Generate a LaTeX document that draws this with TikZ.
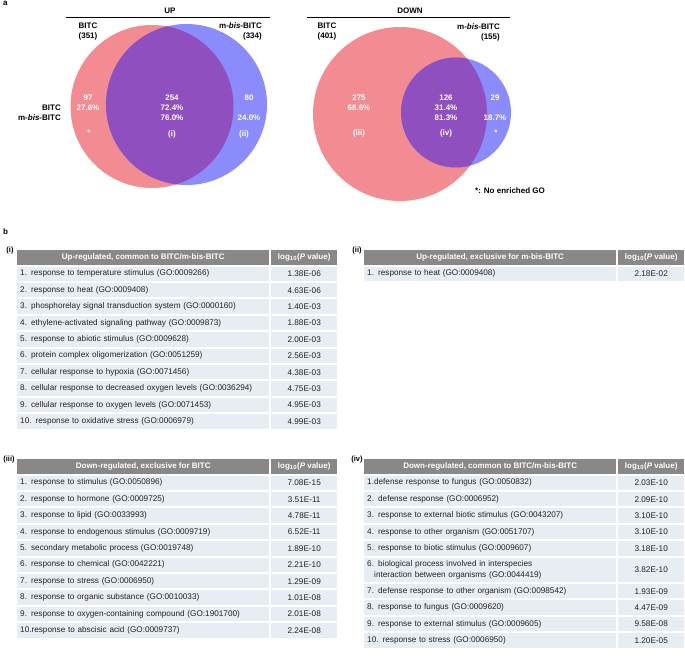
\documentclass[tikz,border=0pt]{standalone}
\usepackage{fontspec}
\setmainfont{Liberation Sans}
\definecolor{vred}{RGB}{242,139,146}
\definecolor{vblue}{RGB}{139,139,252}
\definecolor{vpurple}{RGB}{143,79,190}
\definecolor{hdrgray}{RGB}{136,136,136}
\definecolor{rowbg}{RGB}{232,236,243}
\definecolor{txtgray}{RGB}{35,35,35}
\newcommand\mbis{m-\textit{bis}-BITC}
\newcommand\logp{log\textsubscript{10}(\textit{P} value)}
\newcommand\gotab[5]{%
  \node[hcell, minimum width=252pt] (#1h) at (#2,#3) {#4};
  \node[hcell, minimum width=66pt] (#1hv) at (#2+254,#3) {\logp};
  \foreach \rt/\rv [count=\k] in {#5} {
    \node[lcell] (#1r\k) at (#2,#3+\k*16.4) {\rt};
    \node[vcell] (#1v\k) at (#2+254,#3+\k*16.4) {\rv};
  }%
}
\begin{document}
\begin{tikzpicture}[x=1pt,y=-1pt,
  blab/.style={font=\fontsize{8}{10}\selectfont\bfseries, inner sep=0, text=black},
  wlab/.style={font=\fontsize{8}{10}\selectfont\bfseries, inner sep=0, text=white},
  hcell/.style={fill=hdrgray, text=white, font=\fontsize{8}{9}\selectfont\bfseries, inner sep=0, anchor=north west, minimum height=14.4pt},
  lcell/.style={fill=rowbg, text=txtgray, font=\fontsize{8.2}{10.2}\selectfont, inner xsep=3pt, inner ysep=0, anchor=north west, minimum height=14.4pt, text width=246pt, align=left},
  vcell/.style={fill=rowbg, text=txtgray, font=\fontsize{8.2}{10.2}\selectfont, inner sep=0, anchor=north west, minimum height=14.4pt, minimum width=66pt},
  tlab/.style={font=\fontsize{7.5}{9}\selectfont\bfseries, inner sep=0, anchor=north},
]
\useasboundingbox (0,0) rectangle (685,668);
\fill[white] (0,0) rectangle (685,668);

% panel letters
\node[blab, anchor=north west] (pa) at (3,1) {a};
\node[blab, anchor=north west] (pb) at (3,229) {b};

% ---------- UP Venn ----------
\fill[vred] (152,106.5) circle[radius=81.5pt];
\fill[vblue] (186.5,104.5) circle[radius=80.5pt];
\begin{scope}
  \clip (152,106.5) circle[radius=81.5pt];
  \fill[vpurple] (186.5,104.5) circle[radius=80.5pt];
\end{scope}
\node[blab] (up) at (170,10.5) {UP};
\coordinate (upL) at (66,17.5);
\coordinate (upR) at (270,17.5);
\draw[line width=1.4pt] (upL) -- (upR);
\node[blab, align=center] (bitcA) at (88,31.5) {BITC\\(351)};
\node[blab, align=right, anchor=east] (mbisA) at (262,31) {\mbis\\(334)};
\node[blab, align=right, anchor=east] (legA) at (61,113) {BITC\\\mbis};
\node[wlab] (uA1) at (88,98) {97};
\node[wlab] (uA2) at (88,108) {27.6\%};
\node[wlab] (uA3) at (89,133) {*};
\node[wlab] (uB1) at (172,98) {254};
\node[wlab] (uB2) at (172,108) {72.4\%};
\node[wlab] (uB3) at (172,118) {76.0\%};
\node[wlab] (uB4) at (172,134) {(i)};
\node[wlab] (uC1) at (249,98) {80};
\node[wlab] (uC2) at (249,118) {24.0\%};
\node[wlab] (uC3) at (244,134) {(ii)};

% ---------- DOWN Venn ----------
\fill[vred] (400,114) circle[radius=87pt];
\fill[vblue] (456,112.5) circle[radius=55pt];
\begin{scope}
  \clip (400,114) circle[radius=87pt];
  \fill[vpurple] (456,112.5) circle[radius=55pt];
\end{scope}
\node[blab] (down) at (410,10.5) {DOWN};
\coordinate (dnL) at (307,17.5);
\coordinate (dnR) at (510,17.5);
\draw[line width=1.4pt] (dnL) -- (dnR);
\node[blab, align=center] (bitcB) at (327,31.5) {BITC\\(401)};
\node[blab, align=right, anchor=east] (mbisB) at (500,32) {\mbis\\(155)};
\node[wlab] (dA1) at (359,98) {275};
\node[wlab] (dA2) at (359,108) {68.6\%};
\node[wlab] (dA3) at (359,133) {(iii)};
\node[wlab] (dB1) at (446,98) {126};
\node[wlab] (dB2) at (446,108) {31.4\%};
\node[wlab] (dB3) at (446,118) {81.3\%};
\node[wlab] (dB4) at (446,133) {(iv)};
\node[wlab] (dC1) at (495,98) {29};
\node[wlab] (dC2) at (495,118) {18.7\%};
\node[wlab] (dC3) at (496,133) {*};
\node[blab, anchor=west] (note) at (475,191) {*: No enriched GO};

% ---------- Tables ----------
\node[tlab] (labi) at (10,247) {(i)};
\gotab{ti}{17}{250}{Up-regulated, common to BITC/m-bis-BITC}{
  1. response to temperature stimulus (GO:0009266)/1.38E-06,
  2. response to heat (GO:0009408)/4.63E-06,
  3. phosphorelay signal transduction system (GO:0000160)/1.40E-03,
  4. ethylene-activated signaling pathway (GO:0009873)/1.88E-03,
  5. response to abiotic stimulus (GO:0009628)/2.00E-03,
  6. protein complex oligomerization (GO:0051259)/2.56E-03,
  7. cellular response to hypoxia (GO:0071456)/4.38E-03,
  8. cellular response to decreased oxygen levels (GO:0036294)/4.75E-03,
  9. cellular response to oxygen levels (GO:0071453)/4.95E-03,
  10. response to oxidative stress (GO:0006979)/4.99E-03}

\node[tlab] (labii) at (357,247) {(ii)};
\gotab{tii}{364}{250}{Up-regulated, exclusive for m-bis-BITC}{
  1. response to heat (GO:0009408)/2.18E-02}

\node[tlab] (labiii) at (9,456) {(iii)};
\gotab{tiii}{17}{459}{Down-regulated, exclusive for BITC}{
  1. response to stimulus (GO:0050896)/7.08E-15,
  2. response to hormone (GO:0009725)/3.51E-11,
  3. response to lipid (GO:0033993)/4.78E-11,
  4. response to endogenous stimulus (GO:0009719)/6.52E-11,
  5. secondary metabolic process (GO:0019748)/1.89E-10,
  6. response to chemical (GO:0042221)/2.21E-10,
  7. response to stress (GO:0006950)/1.29E-09,
  8. response to organic substance (GO:0010033)/1.01E-08,
  9. response to oxygen-containing compound (GO:1901700)/2.01E-08,
  10.response to abscisic acid (GO:0009737)/2.24E-08}

\node[tlab] (labiv) at (357,456) {(iv)};
\gotab{tiv}{364}{459}{Down-regulated, common to BITC/m-bis-BITC}{
  1.defense response to fungus (GO:0050832)/2.03E-10,
  2. defense response (GO:0006952)/2.09E-10,
  3. response to external biotic stimulus (GO:0043207)/3.10E-10,
  4. response to other organism (GO:0051707)/3.10E-10,
  5. response to biotic stimulus (GO:0009607)/3.18E-10}
\node[lcell, minimum height=24.4pt] (tivr6) at (364,557.4)
  {6. biological process involved in interspecies\\\hspace*{7pt}interaction between organisms (GO:0044419)};
\node[vcell, minimum height=24.4pt] (tivv6) at (618,557.4) {3.82E-10};
\foreach \rt/\rv [count=\k from 7] in {
  7. defense response to other organism (GO:0098542)/1.93E-09,
  8. response to fungus (GO:0009620)/4.47E-09,
  9. response to external stimulus (GO:0009605)/9.58E-08,
  10. response to stress (GO:0006950)/1.20E-05} {
  \node[lcell] (tivr\k) at (364,583.8+\k*16.4-7*16.4) {\rt};
  \node[vcell] (tivv\k) at (618,583.8+\k*16.4-7*16.4) {\rv};
}
\end{tikzpicture}
\end{document}
